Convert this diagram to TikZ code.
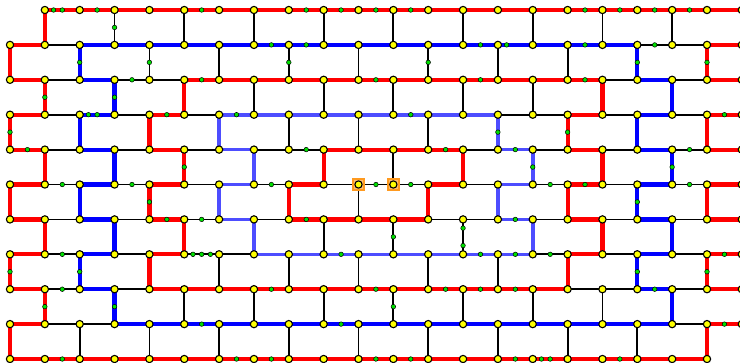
\documentclass[tikz,border=0pt]{standalone}
\usepackage{xcolor}
\usepackage{tikz}
\definecolor{edgered}{HTML}{FF0000}
\definecolor{edgeblue}{HTML}{0000FF}
\definecolor{loopblue}{HTML}{4D4DFF}
\definecolor{vertyellow}{HTML}{FFFF00}
\definecolor{dotgreen}{HTML}{00E000}
\definecolor{selorange}{HTML}{FF9A1F}

\tikzset{
  hr/.style={draw=edgered, line width=4.2pt},
  hb/.style={draw=edgeblue, line width=4.2pt},
  hl/.style={draw=loopblue, line width=3.6pt},
  hk/.style={draw=black, line width=1.8pt},
  hn/.style={draw=none},
  vert/.style={circle, fill=vertyellow, draw=black, line width=1.1pt,
               inner sep=0pt, minimum size=7.3pt},
  gdot/.style={circle, fill=dotgreen, draw=black, line width=0.5pt,
               inner sep=0pt, minimum size=4.6pt},
  selbox/.style={rectangle, fill=selorange!65, draw=selorange, line width=1.8pt,
                 inner sep=0pt, minimum size=10.5pt}
}

\begin{document}
\begin{tikzpicture}[x=1pt, y=-1pt]
  \useasboundingbox (0,0) rectangle (740,362);
  \clip (0,0) rectangle (740,362);

  \foreach \j in {0,...,10}
    \foreach \k in {0,...,21}
      \coordinate (v-\j-\k) at ({10+34.85*\k}, {10+34.9*\j});

  % horizontal edges, row by row
  \foreach \j/\row in {
    0/{hn,hr,hr,hr,hr,hr,hr,hr,hr,hr,hr,hr,hr,hr,hr,hr,hr,hr,hr,hr,hr},
    1/{hr,hk,hb,hb,hb,hb,hb,hb,hb,hb,hb,hb,hb,hb,hb,hb,hb,hb,hk,hk,hr},
    2/{hr,hk,hb,hk,hk,hr,hr,hr,hr,hr,hr,hr,hr,hr,hr,hr,hr,hk,hb,hk,hr},
    3/{hr,hk,hb,hk,hr,hk,hl,hl,hl,hl,hl,hl,hl,hl,hk,hk,hr,hk,hb,hk,hr},
    4/{hr,hk,hb,hk,hr,hk,hl,hk,hk,hr,hr,hr,hr,hk,hl,hk,hr,hk,hb,hk,hr},
    5/{hr,hk,hb,hk,hr,hk,hl,hk,hr,hk,hk,hk,hr,hk,hl,hk,hr,hk,hb,hk,hr},
    6/{hr,hk,hb,hk,hr,hk,hl,hk,hr,hr,hr,hr,hk,hk,hl,hk,hr,hk,hb,hk,hr},
    7/{hr,hk,hb,hk,hr,hk,hk,hl,hl,hl,hl,hl,hl,hl,hl,hk,hr,hk,hb,hk,hr},
    8/{hr,hk,hb,hk,hr,hr,hr,hr,hr,hr,hr,hr,hr,hr,hr,hr,hk,hk,hb,hk,hr},
    9/{hr,hk,hk,hb,hb,hb,hb,hb,hb,hb,hb,hb,hb,hb,hb,hb,hb,hb,hb,hk,hr},
    10/{hr,hr,hr,hr,hr,hr,hr,hr,hr,hr,hr,hr,hr,hr,hr,hr,hr,hr,hr,hr}}
    \foreach \st [count=\i from 0] in \row {
      \pgfmathtruncatemacro\ii{\i+1}
      \draw[\st] (v-\j-\i) -- (v-\j-\ii);
    }

  % vertical edges between row j and j+1
  \foreach \j/\first/\col in {
    0/1/{hr,hk,hk,hk,hk,hk,hk,hk,hk,hk},
    1/0/{hr,hb,hk,hk,hk,hk,hk,hk,hk,hb,hr},
    2/1/{hr,hb,hr,hk,hk,hk,hk,hk,hr,hb},
    3/0/{hr,hb,hr,hl,hk,hk,hk,hl,hr,hb,hr},
    4/1/{hr,hb,hr,hl,hr,hk,hr,hl,hr,hb},
    5/0/{hr,hb,hr,hl,hr,hk,hr,hl,hr,hb,hr},
    6/1/{hr,hb,hr,hl,hk,hk,hk,hl,hr,hb},
    7/0/{hr,hb,hr,hk,hk,hk,hk,hk,hr,hb,hr},
    8/1/{hr,hb,hk,hk,hk,hk,hk,hk,hk,hb},
    9/0/{hr,hk,hk,hk,hk,hk,hk,hk,hk,hk,hr}}
    \foreach \st [count=\n from 0] in \col {
      \pgfmathtruncatemacro\k{\first+2*\n}
      \pgfmathtruncatemacro\jj{\j+1}
      \draw[\st] (v-\j-\k) -- (v-\jj-\k);
    }

  % green dots
  \foreach \j/\edges in {
    0/{1,2,5,8,9,10,11,16,17,18,19},
    1/{7,8,13,16,18},
    2/{3,5,10,13,16},
    3/{2,4,6,11,20},
    4/{0,8,12,14,19},
    5/{1,3,7,10,11,15,16,19},
    6/{4,5,8,14},
    7/{1,5,9,13,14,15,20},
    8/{1,7,10,12,13,14,18},
    9/{5,9,20},
    10/{1,6,7,10,11,14,15,17}}
    \foreach \i in \edges {
      \pgfmathtruncatemacro\ii{\i+1}
      \path (v-\j-\i) -- (v-\j-\ii) node[gdot, pos=0.5] (g-\j-\i) {};
    }
  \foreach \j/\i/\p [count=\n] in {0/1/0.25, 1/14/0.25, 3/2/0.25, 7/5/0.25,
                                   7/5/0.75, 10/15/0.25} {
    \pgfmathtruncatemacro\ii{\i+1}
    \path (v-\j-\i) -- (v-\j-\ii) node[gdot, pos=\p] (q\n) {};
  }
  \foreach \j/\k/\p [count=\n] in {0/3/0.5, 1/2/0.5, 1/4/0.5, 1/8/0.5, 1/12/0.5,
      1/18/0.5, 1/20/0.5, 2/1/0.5, 2/3/0.5, 3/0/0.5, 3/14/0.5, 3/16/0.5,
      4/5/0.5, 4/15/0.5, 4/19/0.5, 5/4/0.5, 5/18/0.5, 6/11/0.5, 6/13/0.25,
      6/13/0.75, 7/0/0.5, 7/2/0.5, 7/18/0.5, 7/20/0.5, 8/1/0.5, 8/3/0.5,
      8/11/0.5} {
    \pgfmathtruncatemacro\jj{\j+1}
    \path (v-\j-\k) -- (v-\jj-\k) node[gdot, pos=\p] (u\n) {};
  }

  \node[selbox] (sel-a) at (v-5-10) {};
  \node[selbox] (sel-b) at (v-5-11) {};

  % vertices
  \foreach \j/\first/\last in {0/1/21, 1/0/21, 2/0/21, 3/0/21, 4/0/21, 5/0/21,
                               6/0/21, 7/0/21, 8/0/21, 9/0/21, 10/0/20}
    \foreach \k in {\first,...,\last}
      \node[vert] (c-\j-\k) at (v-\j-\k) {};
\end{tikzpicture}
\end{document}
